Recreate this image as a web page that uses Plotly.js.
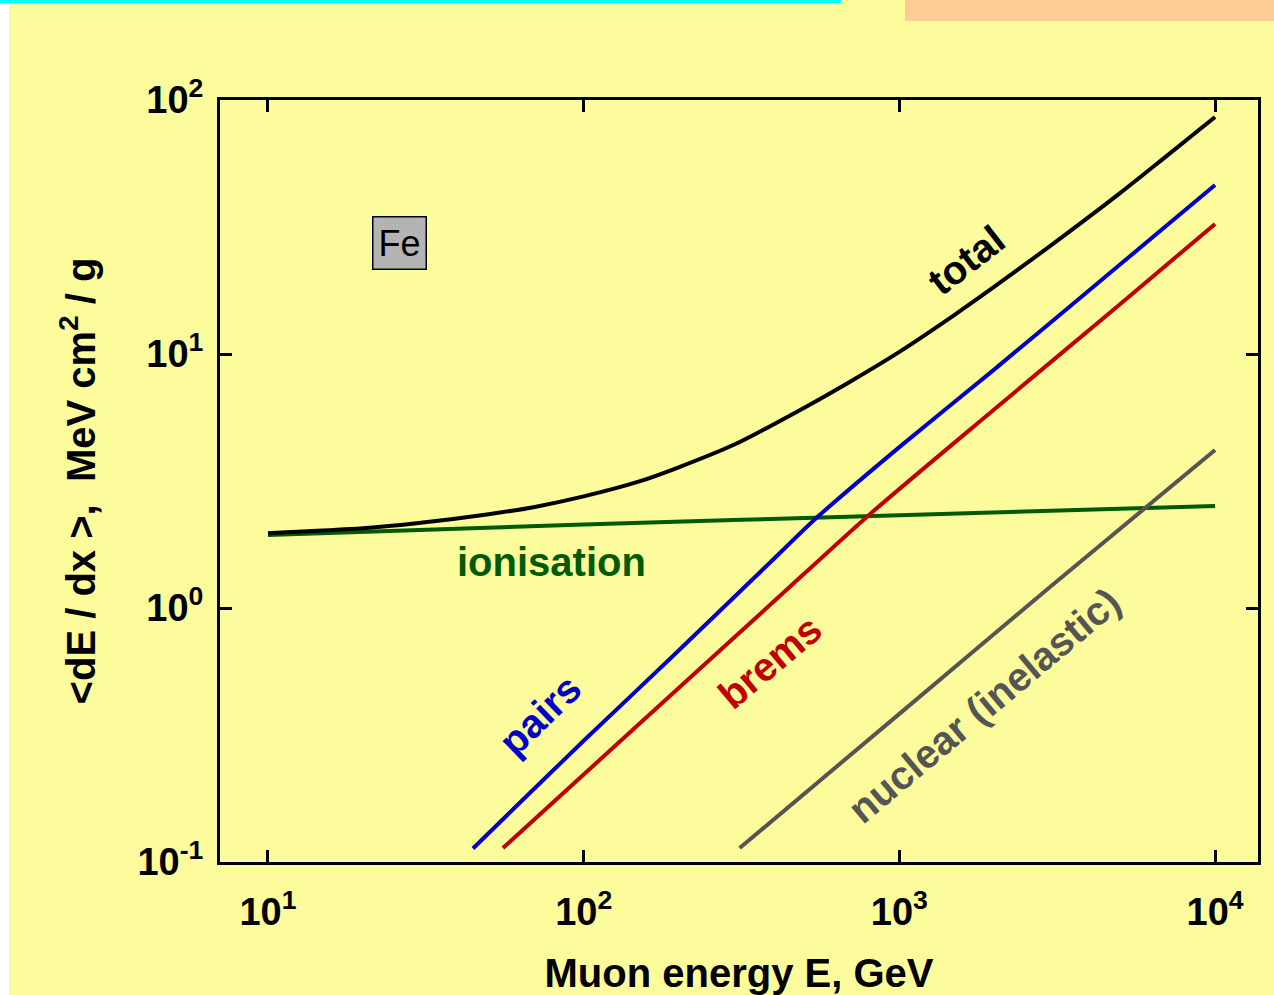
<!DOCTYPE html>
<html>
<head>
<meta charset="utf-8">
<script src="https://cdn.plot.ly/plotly-3.0.1.min.js"></script>
<style>
  html, body { margin: 0; padding: 0; background: #ffffff; width: 1274px; height: 995px; overflow: hidden; }
  #bg { position: absolute; left: 9px; top: 0; width: 1265px; height: 995px; background: #fdfc9c; }
  #cyan { position: absolute; left: 0; top: 0; width: 841px; height: 3px; background: #00ffff; }
  #salmon { position: absolute; left: 905px; top: 0; width: 369px; height: 21px; background: #fecb96; }
  #chart { position: absolute; left: 9px; top: 0; width: 1265px; height: 995px; }
</style>
</head>
<body>
<div id="bg"></div>
<div id="chart"></div>
<div id="cyan"></div>
<div id="salmon"></div>
<script>
// Muon energy (GeV) and mean energy loss <dE/dx> (MeV cm^2/g) in iron
const totalE      = [10, 20, 30, 50, 70, 100, 150, 200, 300, 500, 700, 1000, 1500, 2000, 3000, 5000, 7000, 10000];
const totalLoss   = [1.97, 2.06, 2.16, 2.34, 2.5, 2.75, 3.15, 3.58, 4.4, 6.15, 7.8, 10.2, 14.3, 18.4, 26.6, 43, 60, 85.7];

const ionE        = [10, 100, 1000, 10000];
const ionLoss     = [1.94, 2.13, 2.32, 2.52];

const pairsE      = [44.6, 60, 100, 200, 400, 550, 1000, 2000, 5000, 10000];
const pairsLoss   = [0.113, 0.162, 0.30, 0.68, 1.56, 2.28, 4.3, 8.7, 22.5, 46.3];

const bremsE      = [55.5, 100, 200, 400, 800, 2000, 5000, 10000];
const bremsLoss   = [0.1135, 0.221, 0.484, 1.06, 2.32, 6.06, 15.7, 32.5];

const nuclearE    = [312, 1000, 3000, 10000];
const nuclearLoss = [0.1135, 0.383, 1.21, 4.19];

const seriesNames = ['total', 'ionisation', 'pairs', 'brems', 'nuclear (inelastic)'];
const xTickVals   = [10, 100, 1000, 10000];
const xTickText   = ['10<sup>1</sup>', '10<sup>2</sup>', '10<sup>3</sup>', '10<sup>4</sup>'];
const yTickVals   = [0.1, 1, 10, 100];
const yTickText   = ['10<sup>-1</sup>', '10<sup>0</sup>', '10<sup>1</sup>', '10<sup>2</sup>'];

const FONT = 'Liberation Sans, Arial, Helvetica, sans-serif';

function line(x, y, color, name) {
  return { x: x, y: y, mode: 'lines', name: name, type: 'scatter',
           line: { color: color, width: 4, shape: 'spline', smoothing: 0.7 }, hoverinfo: 'skip' };
}

const data = [
  line(ionE, ionLoss, '#005a00', seriesNames[1]),
  line(nuclearE, nuclearLoss, '#555555', seriesNames[4]),
  line(bremsE, bremsLoss, '#c00000', seriesNames[3]),
  line(pairsE, pairsLoss, '#0000c8', seriesNames[2]),
  line(totalE, totalLoss, '#000000', seriesNames[0])
];

function label(text, x, y, color, angle) {
  return { text: text, x: x, y: y, xref: 'x', yref: 'y', showarrow: false,
           textangle: angle, font: { family: FONT, size: 40, color: color, weight: 'bold' } };
}

const layout = {
  width: 1265, height: 995,
  margin: { l: 211, r: 16, t: 100, b: 133 },
  paper_bgcolor: 'rgba(0,0,0,0)',
  plot_bgcolor: 'rgba(0,0,0,0)',
  showlegend: false,
  xaxis: {
    type: 'log', range: [0.848, 4.136],
    tickvals: xTickVals, ticktext: xTickText,
    ticks: 'inside', ticklen: 12, tickwidth: 3, tickcolor: '#000',
    showline: true, linewidth: 3, linecolor: '#000', mirror: 'ticks',
    showgrid: false, zeroline: false,
    ticklabelstandoff: 14,
    tickfont: { family: FONT, size: 38, color: '#000', weight: 'bold' },
    title: { text: 'Muon energy E, GeV', standoff: 30,
             font: { family: FONT, size: 40, color: '#000', weight: 'bold' } }
  },
  yaxis: {
    type: 'log', range: [-1, 2],
    tickvals: yTickVals, ticktext: yTickText,
    ticks: 'inside', ticklen: 12, tickwidth: 3, tickcolor: '#000',
    showline: true, linewidth: 3, linecolor: '#000', mirror: 'ticks',
    showgrid: false, zeroline: false,
    ticklabelstandoff: 6,
    tickfont: { family: FONT, size: 38, color: '#000', weight: 'bold' },
    title: { text: '<dE / dx >,  MeV cm<sup>2</sup> / g', standoff: 30,
             font: { family: FONT, size: 40, color: '#000', weight: 'bold' } }
  },
  annotations: [
    label(seriesNames[0], 3.212, 1.370, '#000000', -38),
    label(seriesNames[1], 1.899, 0.181, '#005a00', 0),
    label(seriesNames[2], 1.861, -0.421, '#0000c8', -44),
    label(seriesNames[3], 2.589, -0.213, '#c00000', -40),
    label(seriesNames[4], 3.269, -0.382, '#555555', -40),
    { text: 'Fe', x: 1.418, y: 1.437, xref: 'x', yref: 'y', showarrow: false,
      bgcolor: '#b4b4b4', bordercolor: '#000', borderwidth: 1.5, borderpad: 5,
      font: { family: FONT, size: 36, color: '#000' } }
  ]
};

Plotly.newPlot('chart', data, layout, { displayModeBar: false, staticPlot: true });
</script>
</body>
</html>
